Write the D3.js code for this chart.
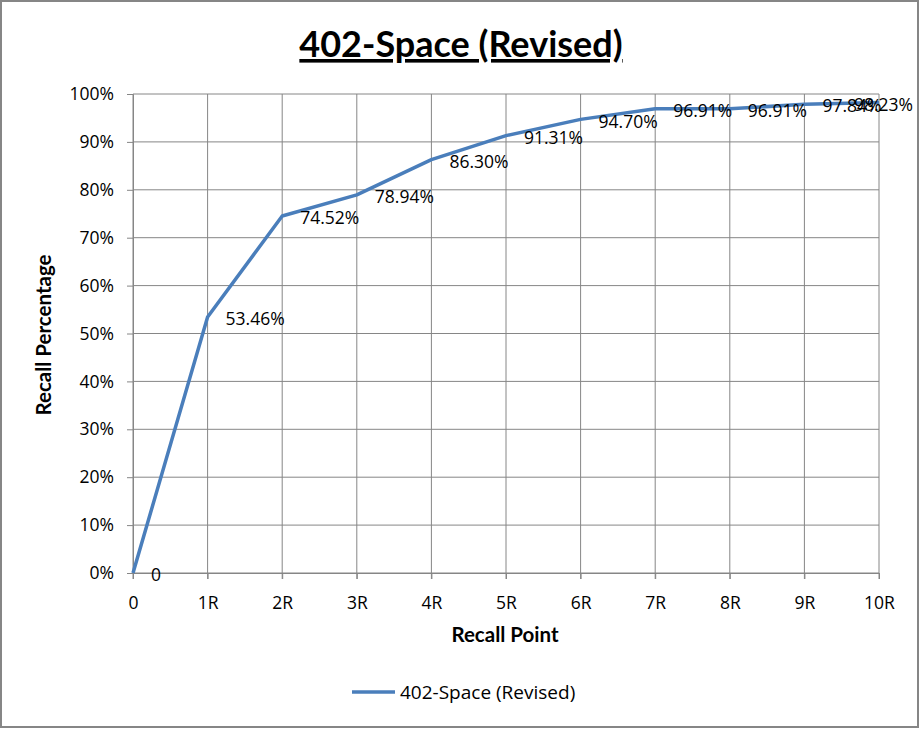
<!DOCTYPE html>
<html>
<head>
<meta charset="utf-8">
<script src="https://cdn.jsdelivr.net/npm/d3@7"></script>
<style>
body { margin: 0; background: #fff; }
svg text { font-family: "Open Sans", sans-serif; fill: #000; }
</style>
</head>
<body>
<div id="vis"></div>
<script>
var points = ["0", "1R", "2R", "3R", "4R", "5R", "6R", "7R", "8R", "9R", "10R"];
var recall = [0, 53.46, 74.52, 78.94, 86.30, 91.31, 94.70, 96.91, 96.91, 97.84, 98.23];
var valueLabels = ["0", "53.46%", "74.52%", "78.94%", "86.30%", "91.31%", "94.70%", "96.91%", "96.91%", "97.84%", "98.23%"];
var yTicks = [0, 10, 20, 30, 40, 50, 60, 70, 80, 90, 100];
var seriesName = "402-Space (Revised)";

var W = 920, H = 729;
var m = {left: 133, right: 41, top: 94, bottom: 156};

var svg = d3.select("#vis").append("svg")
    .attr("width", W).attr("height", H);

// outer frame
svg.append("rect")
    .attr("x", 1).attr("y", 1).attr("width", W - 3).attr("height", H - 3)
    .attr("fill", "#fff").attr("stroke", "#868686").attr("stroke-width", 2);

var x = d3.scalePoint().domain(points).range([m.left, W - m.right]);
var y = d3.scaleLinear().domain([0, 100]).range([H - m.bottom, m.top]);

// grid
svg.append("g").selectAll("line").data(yTicks).enter().append("line")
    .attr("x1", m.left).attr("x2", W - m.right)
    .attr("y1", function(d){ return y(d); }).attr("y2", function(d){ return y(d); })
    .attr("stroke", "#868686").attr("stroke-width", 1);
svg.append("g").selectAll("line").data(points).enter().append("line")
    .attr("x1", function(d){ return x(d); }).attr("x2", function(d){ return x(d); })
    .attr("y1", m.top).attr("y2", H - m.bottom + 6)
    .attr("stroke", "#868686").attr("stroke-width", 1);

// axes
var yAxis = svg.append("g").attr("transform", "translate(" + m.left + ",0)")
    .call(d3.axisLeft(y).tickValues(yTicks).tickSize(6).tickFormat(function(d){ return d + "%"; }));
var xAxis = svg.append("g").attr("transform", "translate(0," + (H - m.bottom) + ")")
    .call(d3.axisBottom(x).tickSize(6));
[xAxis, yAxis].forEach(function(a){
    a.select(".domain").attr("stroke", "#868686");
    a.selectAll(".tick line").attr("stroke", "#868686");
    a.selectAll("text").style("font-size", "17.5px").attr("fill", "#000");
});
yAxis.selectAll("text").attr("x", -19);
xAxis.selectAll("text").attr("y", 24);

// series line
var line = d3.line()
    .x(function(d, i){ return x(points[i]); })
    .y(function(d){ return y(d); });
svg.append("path").datum(recall)
    .attr("d", line)
    .attr("fill", "none").attr("stroke", "#4a7ebb").attr("stroke-width", 3.5)
    .attr("stroke-linejoin", "round");

// data labels, kept inside the frame
svg.append("g").selectAll("text").data(recall).enter().append("text")
    .attr("y", function(d){ return y(d) + 2; })
    .attr("dy", "0.35em")
    .style("font-size", "17.5px")
    .text(function(d, i){ return valueLabels[i]; })
    .attr("x", function(d, i){
        var w = this.getComputedTextLength();
        return Math.min(x(points[i]) + 18, W - 7 - w);
    });

// title
svg.append("text").attr("x", 461).attr("y", 57).attr("text-anchor", "middle")
    .style("font-family", "Lato, sans-serif")
    .style("font-size", "36px").style("font-weight", "bold")
    .style("text-decoration", "underline")
    .text(seriesName);

// axis titles
svg.append("text").attr("x", 505).attr("y", 642).attr("text-anchor", "middle")
    .style("font-family", "Lato, sans-serif")
    .style("font-size", "20.5px").style("font-weight", "bold").text("Recall Point");
svg.append("text").attr("transform", "translate(51,335) rotate(-90)").attr("text-anchor", "middle")
    .style("font-family", "Lato, sans-serif")
    .style("font-size", "20.5px").style("font-weight", "bold").text("Recall Percentage");

// legend
svg.append("line").attr("x1", 352).attr("x2", 395).attr("y1", 692).attr("y2", 692)
    .attr("stroke", "#4a7ebb").attr("stroke-width", 3.5);
svg.append("text").attr("x", 400).attr("y", 699)
    .style("font-size", "19px").text(seriesName);
</script>
</body>
</html>
